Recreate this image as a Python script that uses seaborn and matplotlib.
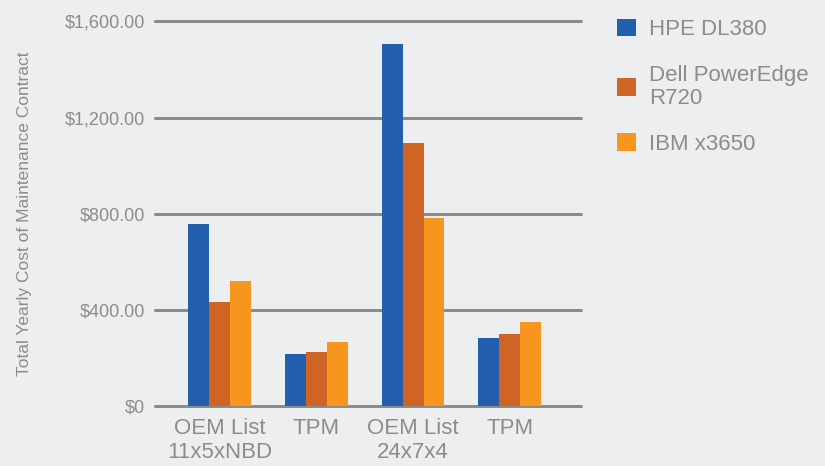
import pandas as pd
import numpy as np
import matplotlib.pyplot as plt
import seaborn as sns

# chart data
contract_keys = ['oem_11x5', 'tpm_11x5', 'oem_24x7', 'tpm_24x7']
contract_labels = ['OEM List\n11x5xNBD', 'TPM', 'OEM List\n24x7x4', 'TPM']
servers = ['HPE DL380', 'Dell PowerEdge\nR720', 'IBM x3650']
hpe_cost = [758, 216, 1507, 283]
dell_cost = [431, 225, 1093, 299]
ibm_cost = [518, 266, 783, 349]
y_ticks = [0, 400, 800, 1200, 1600]
y_tick_labels = ['$0', '$400.00', '$800.00', '$1,200.00', '$1,600.00']

server_colors = ['#245FAD', '#D06424', '#F7961E']
bg = '#EDEEF0'
text_gray = '#8C8C8C'
grid_gray = '#8C8C8C'


def build_frame():
    rows = []
    for name, vals in zip(servers, [hpe_cost, dell_cost, ibm_cost]):
        for key, v in zip(contract_keys, vals):
            rows.append({'Contract': key, 'Server': name, 'Cost': v})
    return pd.DataFrame(rows)


df = build_frame()

sns.set_theme(style='white')
plt.rcParams['font.family'] = ['Liberation Sans', 'DejaVu Sans']

fig = plt.figure(figsize=(8.25, 4.66), dpi=100, facecolor=bg)
ax = fig.add_axes([0.188, 0.129, 0.516, 0.825])
ax.set_facecolor(bg)

sns.barplot(data=df, x='Contract', y='Cost', hue='Server', order=contract_keys,
            hue_order=servers, palette=server_colors, width=0.65,
            saturation=1, linewidth=0, ax=ax, zorder=3)

ax.set_xlim(-0.666, 3.734)
ax.set_ylim(0, 1600)
ax.set_yticks(y_ticks)
ax.set_yticklabels(y_tick_labels)
ax.set_xticks(range(len(contract_keys)))
ax.set_xticklabels(contract_labels)
ax.tick_params(axis='y', length=0, pad=7, labelsize=13, labelcolor=text_gray)
ax.tick_params(axis='x', length=0, pad=9, labelsize=16, labelcolor=text_gray)
for lab in ax.get_xticklabels():
    lab.set_linespacing(1.15)

ax.yaxis.grid(True, color=grid_gray, linewidth=2.2, zorder=1)
for gl in ax.get_ygridlines():
    gl.set_clip_on(False)
ax.xaxis.grid(False)
for s in ax.spines.values():
    s.set_visible(False)

ax.set_xlabel('')
ax.set_ylabel('Total Yearly Cost of Maintenance Contract', fontsize=12.5,
              color=text_gray)
ax.yaxis.set_label_coords(-0.29, 0.5)

handles, labels = ax.get_legend_handles_labels()
ax.get_legend().remove()
leg = fig.legend(handles, labels, loc='upper left', bbox_to_anchor=(0.748, 0.96),
                 frameon=False, fontsize=16, handlelength=0.85, handleheight=0.85,
                 handletextpad=0.6, labelspacing=1.1, borderpad=0, borderaxespad=0)
for t in leg.get_texts():
    t.set_color(text_gray)
    t.set_linespacing(1.15)

fig.savefig('out.png', dpi=100, facecolor=bg)
